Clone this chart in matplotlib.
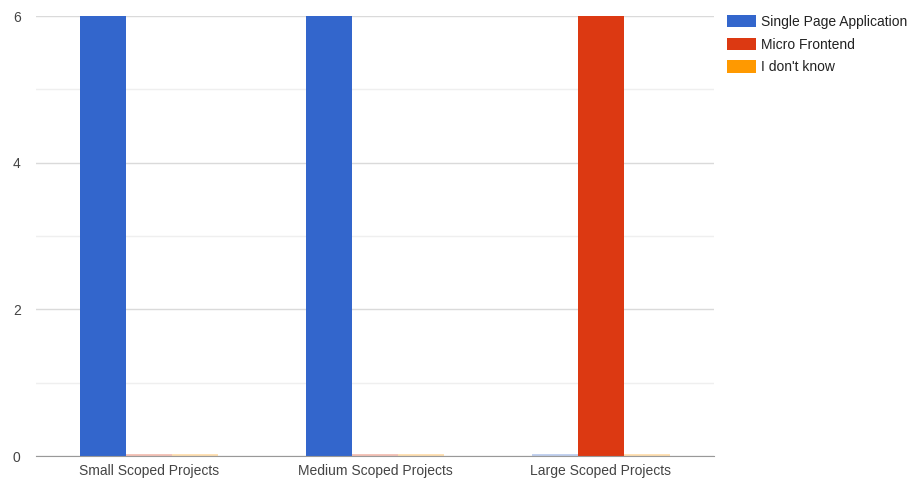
import matplotlib
matplotlib.use("Agg")
import matplotlib.pyplot as plt
import numpy as np

categories = ["Small Scoped Projects", "Medium Scoped Projects", "Large Scoped Projects"]
series_names = ["Single Page Application", "Micro Frontend", "I don't know"]
spa = [6, 6, 0]
micro = [0, 0, 6]
unknown = [0, 0, 0]
series_values = [spa, micro, unknown]
colors = ["#3366cc", "#dc3912", "#ff9900"]
y_ticks = [0, 2, 4, 6]

plt.rcParams["font.family"] = ["Liberation Sans", "DejaVu Sans"]

fig = plt.figure(figsize=(9.21, 4.80), dpi=100)
ax = fig.add_axes([36 / 921, 1 - 456 / 480, (714 - 36) / 921, (456 - 16) / 480])

x = np.arange(len(categories))
width = 0.204
offsets = [-width, 0, width]
handles = []
for vals, off, col, name in zip(series_values, offsets, colors, series_names):
    bars = ax.bar(x + off, vals, width, color=col, label=name, zorder=3, linewidth=0)
    handles.append(bars)
    # zero-height columns still show a faint sliver on the baseline
    for xi, v in zip(x + off, vals):
        if v == 0:
            ax.plot([xi - width / 2, xi + width / 2], [0.012, 0.012], color=col,
                    alpha=0.35, lw=1.2, zorder=2, solid_capstyle="butt")

ax.set_xlim(-0.5, 2.5)
ax.set_ylim(0, 6)
ax.set_yticks(y_ticks)
ax.set_yticks([1, 3, 5], minor=True)
ax.set_xticks(x)
ax.set_xticklabels(categories)
ax.grid(axis="y", which="major", color="#dadada", lw=1, zorder=0)
ax.grid(axis="y", which="minor", color="#efefef", lw=1, zorder=0)
ax.tick_params(axis="both", which="both", length=0, labelsize=10, colors="#444444")
ax.tick_params(axis="y", pad=11)
ax.tick_params(axis="x", pad=5.5)
for s in ["top", "right", "left"]:
    ax.spines[s].set_visible(False)
ax.spines["bottom"].set_color("#999999")
ax.spines["bottom"].set_zorder(4)

fig.legend(handles=handles, labels=series_names, loc="upper left",
           bbox_to_anchor=(727 / 921, 1 - 15 / 480), frameon=False,
           fontsize=10, handlelength=2.1, handleheight=1.0,
           handletextpad=0.35, labelspacing=0.62, borderpad=0, borderaxespad=0,
           labelcolor="#222222")

fig.savefig("out.png", dpi=100)
